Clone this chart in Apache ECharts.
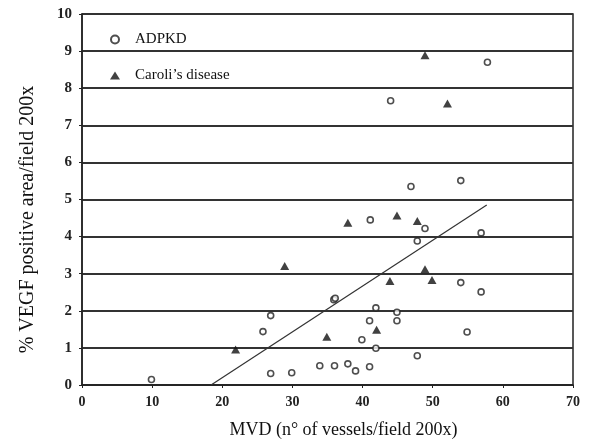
<!DOCTYPE html>
<html>
<head>
<meta charset="utf-8">
<script src="https://cdn.jsdelivr.net/npm/echarts@6/dist/echarts.min.js"></script>
<style>html,body{margin:0;padding:0;background:#fff}#c{width:592px;height:448px}</style>
</head>
<body>
<div id="c"></div>
<script>
var xTicks = [0, 10, 20, 30, 40, 50, 60, 70];
var yTicks = [0, 1, 2, 3, 4, 5, 6, 7, 8, 9, 10];

var adpkdX = [9.9, 25.8, 26.9, 26.9, 29.9, 33.9, 36.0, 35.9, 36.1, 37.9, 39.0, 39.9, 41.0, 41.0, 41.1, 41.9, 41.9, 44.0, 44.9, 44.9, 46.9, 47.8, 47.8, 48.9, 54.0, 54.0, 54.9, 56.9, 56.9, 57.8];
var adpkdY = [0.15, 1.44, 1.87, 0.31, 0.33, 0.52, 0.52, 2.30, 2.34, 0.57, 0.38, 1.22, 0.49, 1.73, 4.45, 0.99, 2.08, 7.66, 1.96, 1.73, 5.35, 0.79, 3.88, 4.22, 5.51, 2.76, 1.43, 4.10, 2.51, 8.70];

var caroliX = [21.9, 28.9, 34.9, 37.9, 42.0, 43.9, 44.9, 47.8, 48.9, 48.9, 49.9, 52.1];
var caroliY = [0.96, 3.21, 1.30, 4.37, 1.49, 2.80, 4.57, 4.42, 3.12, 8.89, 2.83, 7.59];

var trendX = [18.4, 57.7];
var trendY = [0, 4.85];

function zip(a, b) { return a.map(function (v, i) { return [v, b[i]]; }); }

var serif = 'Liberation Serif';
var chart = echarts.init(document.getElementById('c'), null, { renderer: 'canvas' });
chart.setOption({
  animation: false,
  backgroundColor: '#fff',
  grid: { left: 82, right: 19, top: 14, bottom: 63, show: true, borderColor: '#222', borderWidth: 1.5 },
  legend: {
    orient: 'vertical', left: 105, top: 27, itemGap: 21, itemWidth: 10, itemHeight: 8,
    data: ['ADPKD', 'Caroli\u2019s disease'],
    textStyle: { fontFamily: serif, fontSize: 15, color: '#111', padding: [0, 0, 0, 10] }
  },
  xAxis: {
    type: 'value', min: xTicks[0], max: xTicks[xTicks.length - 1], interval: 10,
    name: 'MVD (n\u00b0 of vessels/field 200x)', nameLocation: 'middle', nameGap: 36,
    nameTextStyle: { fontFamily: serif, fontSize: 18, color: '#111', padding: [0, 0, 0, 32] },
    axisLine: { lineStyle: { color: '#222', width: 1.5 } },
    axisTick: { length: 3, lineStyle: { color: '#222' } },
    axisLabel: { fontFamily: serif, fontSize: 14, fontWeight: 'bold', color: '#222', margin: 10 },
    splitLine: { show: false }
  },
  yAxis: {
    type: 'value', min: yTicks[0], max: yTicks[yTicks.length - 1], interval: 1,
    name: '% VEGF positive area/field 200x', nameLocation: 'middle', nameGap: 44,
    nameTextStyle: { fontFamily: serif, fontSize: 20, color: '#111', padding: [0, 40, 0, 0] },
    axisLine: { lineStyle: { color: '#222', width: 1.5 } },
    axisTick: { length: 3, lineStyle: { color: '#222' } },
    axisLabel: { fontFamily: serif, fontSize: 15, fontWeight: 'bold', color: '#222', margin: 10 },
    splitLine: { show: true, lineStyle: { color: '#333', width: 2 } }
  },
  series: [
    {
      name: 'ADPKD', type: 'scatter', data: zip(adpkdX, adpkdY),
      symbol: 'circle', symbolSize: 6,
      itemStyle: { color: '#fff', borderColor: '#222', borderWidth: 1.6 }, z: 3
    },
    {
      name: 'Caroli\u2019s disease', type: 'scatter', data: zip(caroliX, caroliY),
      symbol: 'triangle', symbolSize: [9, 8],
      itemStyle: { color: '#111' }, z: 3
    },
    {
      name: 'trend', type: 'line', data: zip(trendX, trendY),
      symbol: 'none', lineStyle: { color: '#333', width: 1.2 }, z: 2
    }
  ]
});
</script>
</body>
</html>
